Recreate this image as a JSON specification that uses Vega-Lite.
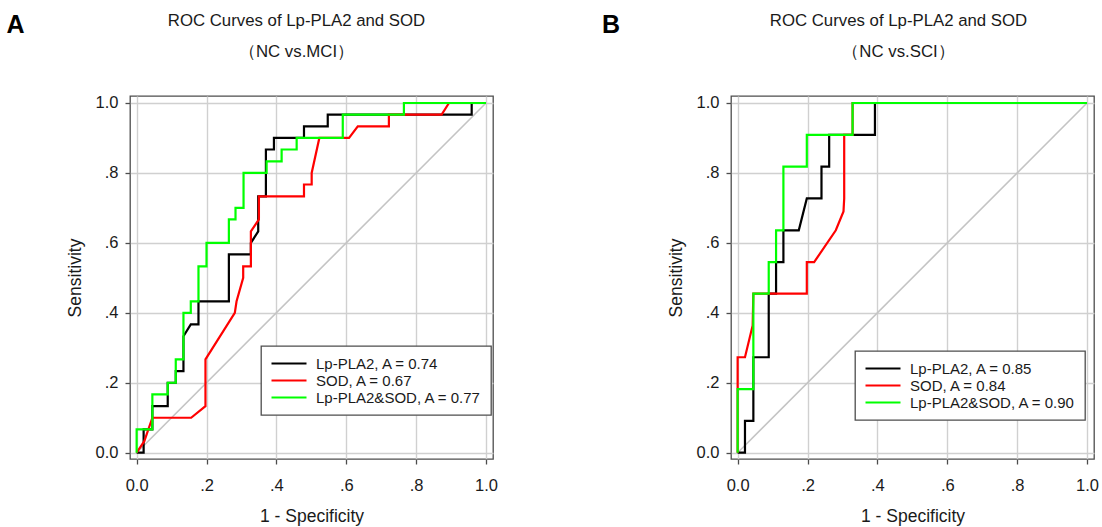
{
  "$schema": "https://vega.github.io/schema/vega-lite/v6.json",
  "padding": {"left": 6, "top": 12, "right": 0, "bottom": 0},
  "config": {
    "font": "Liberation Sans",
    "view": {"stroke": "#4d4d4d", "strokeWidth": 1.3},
    "axis": {
      "grid": true, "gridColor": "#d0d0d0", "gridWidth": 1.4, "domain": false,
      "tickColor": "#4d4d4d", "tickSize": 5, "tickWidth": 1.3,
      "labelFontSize": 16.5, "labelColor": "#1a1a1a", "labelFont": "Liberation Sans",
      "titleFontSize": 17.5, "titleFontWeight": "normal", "titleColor": "#1a1a1a", "titleFont": "Liberation Sans",
      "labelExpr": "datum.value == 0 ? '0.0' : datum.value == 1 ? '1.0' : replace(format(datum.value, '.1f'), '0.', '.')"
    },
    "axisX": {"labelPadding": 13, "titlePadding": 14},
    "axisY": {"labelPadding": 7, "titlePadding": 11},
    "legend": {
      "orient": "none", "title": null, "strokeColor": "#4d4d4d", "strokeWidth": 1.3, "fillColor": "#ffffff",
      "padding": 9, "symbolType": "stroke", "symbolSize": 1225, "symbolStrokeWidth": 2.2,
      "labelFontSize": 15, "labelFont": "Liberation Sans", "labelColor": "#1a1a1a", "labelLimit": 400,
      "clipHeight": 17, "rowPadding": 0, "labelOffset": 8
    },
    "title": {"font": "Liberation Sans", "color": "#1a1a1a"}
  },
  "datasets": {
    "A": [
      {"s": "Lp-PLA2, A = 0.74", "i": 0, "x": 0, "y": 0},
      {"s": "Lp-PLA2, A = 0.74", "i": 1, "x": 0.02, "y": 0},
      {"s": "Lp-PLA2, A = 0.74", "i": 2, "x": 0.02, "y": 0.067},
      {"s": "Lp-PLA2, A = 0.74", "i": 3, "x": 0.045, "y": 0.067},
      {"s": "Lp-PLA2, A = 0.74", "i": 4, "x": 0.045, "y": 0.133},
      {"s": "Lp-PLA2, A = 0.74", "i": 5, "x": 0.089, "y": 0.133},
      {"s": "Lp-PLA2, A = 0.74", "i": 6, "x": 0.089, "y": 0.2},
      {"s": "Lp-PLA2, A = 0.74", "i": 7, "x": 0.112, "y": 0.2},
      {"s": "Lp-PLA2, A = 0.74", "i": 8, "x": 0.112, "y": 0.233},
      {"s": "Lp-PLA2, A = 0.74", "i": 9, "x": 0.134, "y": 0.233},
      {"s": "Lp-PLA2, A = 0.74", "i": 10, "x": 0.134, "y": 0.333},
      {"s": "Lp-PLA2, A = 0.74", "i": 11, "x": 0.155, "y": 0.367},
      {"s": "Lp-PLA2, A = 0.74", "i": 12, "x": 0.177, "y": 0.367},
      {"s": "Lp-PLA2, A = 0.74", "i": 13, "x": 0.177, "y": 0.433},
      {"s": "Lp-PLA2, A = 0.74", "i": 14, "x": 0.264, "y": 0.433},
      {"s": "Lp-PLA2, A = 0.74", "i": 15, "x": 0.264, "y": 0.567},
      {"s": "Lp-PLA2, A = 0.74", "i": 16, "x": 0.327, "y": 0.567},
      {"s": "Lp-PLA2, A = 0.74", "i": 17, "x": 0.327, "y": 0.6},
      {"s": "Lp-PLA2, A = 0.74", "i": 18, "x": 0.348, "y": 0.633},
      {"s": "Lp-PLA2, A = 0.74", "i": 19, "x": 0.348, "y": 0.733},
      {"s": "Lp-PLA2, A = 0.74", "i": 20, "x": 0.37, "y": 0.733},
      {"s": "Lp-PLA2, A = 0.74", "i": 21, "x": 0.37, "y": 0.867},
      {"s": "Lp-PLA2, A = 0.74", "i": 22, "x": 0.393, "y": 0.867},
      {"s": "Lp-PLA2, A = 0.74", "i": 23, "x": 0.393, "y": 0.9},
      {"s": "Lp-PLA2, A = 0.74", "i": 24, "x": 0.479, "y": 0.9},
      {"s": "Lp-PLA2, A = 0.74", "i": 25, "x": 0.479, "y": 0.933},
      {"s": "Lp-PLA2, A = 0.74", "i": 26, "x": 0.547, "y": 0.933},
      {"s": "Lp-PLA2, A = 0.74", "i": 27, "x": 0.547, "y": 0.967},
      {"s": "Lp-PLA2, A = 0.74", "i": 28, "x": 0.959, "y": 0.967},
      {"s": "Lp-PLA2, A = 0.74", "i": 29, "x": 0.959, "y": 1},
      {"s": "Lp-PLA2, A = 0.74", "i": 30, "x": 1, "y": 1},
      {"s": "SOD, A = 0.67", "i": 0, "x": 0, "y": 0},
      {"s": "SOD, A = 0.67", "i": 1, "x": 0.022, "y": 0.033},
      {"s": "SOD, A = 0.67", "i": 2, "x": 0.045, "y": 0.1},
      {"s": "SOD, A = 0.67", "i": 3, "x": 0.156, "y": 0.1},
      {"s": "SOD, A = 0.67", "i": 4, "x": 0.197, "y": 0.133},
      {"s": "SOD, A = 0.67", "i": 5, "x": 0.197, "y": 0.267},
      {"s": "SOD, A = 0.67", "i": 6, "x": 0.281, "y": 0.4},
      {"s": "SOD, A = 0.67", "i": 7, "x": 0.286, "y": 0.433},
      {"s": "SOD, A = 0.67", "i": 8, "x": 0.305, "y": 0.5},
      {"s": "SOD, A = 0.67", "i": 9, "x": 0.305, "y": 0.533},
      {"s": "SOD, A = 0.67", "i": 10, "x": 0.327, "y": 0.533},
      {"s": "SOD, A = 0.67", "i": 11, "x": 0.327, "y": 0.633},
      {"s": "SOD, A = 0.67", "i": 12, "x": 0.35, "y": 0.667},
      {"s": "SOD, A = 0.67", "i": 13, "x": 0.35, "y": 0.733},
      {"s": "SOD, A = 0.67", "i": 14, "x": 0.479, "y": 0.733},
      {"s": "SOD, A = 0.67", "i": 15, "x": 0.479, "y": 0.767},
      {"s": "SOD, A = 0.67", "i": 16, "x": 0.501, "y": 0.767},
      {"s": "SOD, A = 0.67", "i": 17, "x": 0.501, "y": 0.8},
      {"s": "SOD, A = 0.67", "i": 18, "x": 0.523, "y": 0.9},
      {"s": "SOD, A = 0.67", "i": 19, "x": 0.608, "y": 0.9},
      {"s": "SOD, A = 0.67", "i": 20, "x": 0.633, "y": 0.933},
      {"s": "SOD, A = 0.67", "i": 21, "x": 0.722, "y": 0.933},
      {"s": "SOD, A = 0.67", "i": 22, "x": 0.722, "y": 0.967},
      {"s": "SOD, A = 0.67", "i": 23, "x": 0.873, "y": 0.967},
      {"s": "SOD, A = 0.67", "i": 24, "x": 0.894, "y": 1},
      {"s": "SOD, A = 0.67", "i": 25, "x": 1, "y": 1},
      {"s": "Lp-PLA2&SOD, A = 0.77", "i": 0, "x": 0, "y": 0},
      {"s": "Lp-PLA2&SOD, A = 0.77", "i": 1, "x": 0, "y": 0.067},
      {"s": "Lp-PLA2&SOD, A = 0.77", "i": 2, "x": 0.045, "y": 0.067},
      {"s": "Lp-PLA2&SOD, A = 0.77", "i": 3, "x": 0.045, "y": 0.167},
      {"s": "Lp-PLA2&SOD, A = 0.77", "i": 4, "x": 0.089, "y": 0.167},
      {"s": "Lp-PLA2&SOD, A = 0.77", "i": 5, "x": 0.089, "y": 0.2},
      {"s": "Lp-PLA2&SOD, A = 0.77", "i": 6, "x": 0.112, "y": 0.2},
      {"s": "Lp-PLA2&SOD, A = 0.77", "i": 7, "x": 0.112, "y": 0.267},
      {"s": "Lp-PLA2&SOD, A = 0.77", "i": 8, "x": 0.134, "y": 0.267},
      {"s": "Lp-PLA2&SOD, A = 0.77", "i": 9, "x": 0.134, "y": 0.4},
      {"s": "Lp-PLA2&SOD, A = 0.77", "i": 10, "x": 0.155, "y": 0.4},
      {"s": "Lp-PLA2&SOD, A = 0.77", "i": 11, "x": 0.155, "y": 0.433},
      {"s": "Lp-PLA2&SOD, A = 0.77", "i": 12, "x": 0.177, "y": 0.433},
      {"s": "Lp-PLA2&SOD, A = 0.77", "i": 13, "x": 0.177, "y": 0.533},
      {"s": "Lp-PLA2&SOD, A = 0.77", "i": 14, "x": 0.2, "y": 0.533},
      {"s": "Lp-PLA2&SOD, A = 0.77", "i": 15, "x": 0.2, "y": 0.6},
      {"s": "Lp-PLA2&SOD, A = 0.77", "i": 16, "x": 0.264, "y": 0.6},
      {"s": "Lp-PLA2&SOD, A = 0.77", "i": 17, "x": 0.264, "y": 0.667},
      {"s": "Lp-PLA2&SOD, A = 0.77", "i": 18, "x": 0.283, "y": 0.667},
      {"s": "Lp-PLA2&SOD, A = 0.77", "i": 19, "x": 0.283, "y": 0.7},
      {"s": "Lp-PLA2&SOD, A = 0.77", "i": 20, "x": 0.306, "y": 0.7},
      {"s": "Lp-PLA2&SOD, A = 0.77", "i": 21, "x": 0.306, "y": 0.8},
      {"s": "Lp-PLA2&SOD, A = 0.77", "i": 22, "x": 0.372, "y": 0.8},
      {"s": "Lp-PLA2&SOD, A = 0.77", "i": 23, "x": 0.372, "y": 0.833},
      {"s": "Lp-PLA2&SOD, A = 0.77", "i": 24, "x": 0.415, "y": 0.833},
      {"s": "Lp-PLA2&SOD, A = 0.77", "i": 25, "x": 0.415, "y": 0.867},
      {"s": "Lp-PLA2&SOD, A = 0.77", "i": 26, "x": 0.458, "y": 0.867},
      {"s": "Lp-PLA2&SOD, A = 0.77", "i": 27, "x": 0.458, "y": 0.9},
      {"s": "Lp-PLA2&SOD, A = 0.77", "i": 28, "x": 0.59, "y": 0.9},
      {"s": "Lp-PLA2&SOD, A = 0.77", "i": 29, "x": 0.59, "y": 0.967},
      {"s": "Lp-PLA2&SOD, A = 0.77", "i": 30, "x": 0.765, "y": 0.967},
      {"s": "Lp-PLA2&SOD, A = 0.77", "i": 31, "x": 0.765, "y": 1},
      {"s": "Lp-PLA2&SOD, A = 0.77", "i": 32, "x": 1, "y": 1}
    ],
    "B": [
      {"s": "Lp-PLA2, A = 0.85", "i": 0, "x": 0, "y": 0},
      {"s": "Lp-PLA2, A = 0.85", "i": 1, "x": 0.021, "y": 0},
      {"s": "Lp-PLA2, A = 0.85", "i": 2, "x": 0.021, "y": 0.091},
      {"s": "Lp-PLA2, A = 0.85", "i": 3, "x": 0.045, "y": 0.091},
      {"s": "Lp-PLA2, A = 0.85", "i": 4, "x": 0.045, "y": 0.273},
      {"s": "Lp-PLA2, A = 0.85", "i": 5, "x": 0.089, "y": 0.273},
      {"s": "Lp-PLA2, A = 0.85", "i": 6, "x": 0.089, "y": 0.455},
      {"s": "Lp-PLA2, A = 0.85", "i": 7, "x": 0.11, "y": 0.455},
      {"s": "Lp-PLA2, A = 0.85", "i": 8, "x": 0.11, "y": 0.545},
      {"s": "Lp-PLA2, A = 0.85", "i": 9, "x": 0.131, "y": 0.545},
      {"s": "Lp-PLA2, A = 0.85", "i": 10, "x": 0.131, "y": 0.636},
      {"s": "Lp-PLA2, A = 0.85", "i": 11, "x": 0.175, "y": 0.636},
      {"s": "Lp-PLA2, A = 0.85", "i": 12, "x": 0.198, "y": 0.727},
      {"s": "Lp-PLA2, A = 0.85", "i": 13, "x": 0.24, "y": 0.727},
      {"s": "Lp-PLA2, A = 0.85", "i": 14, "x": 0.24, "y": 0.818},
      {"s": "Lp-PLA2, A = 0.85", "i": 15, "x": 0.262, "y": 0.818},
      {"s": "Lp-PLA2, A = 0.85", "i": 16, "x": 0.262, "y": 0.909},
      {"s": "Lp-PLA2, A = 0.85", "i": 17, "x": 0.393, "y": 0.909},
      {"s": "Lp-PLA2, A = 0.85", "i": 18, "x": 0.393, "y": 1},
      {"s": "Lp-PLA2, A = 0.85", "i": 19, "x": 1, "y": 1},
      {"s": "SOD, A = 0.84", "i": 0, "x": 0, "y": 0},
      {"s": "SOD, A = 0.84", "i": 1, "x": 0, "y": 0.273},
      {"s": "SOD, A = 0.84", "i": 2, "x": 0.021, "y": 0.273},
      {"s": "SOD, A = 0.84", "i": 3, "x": 0.043, "y": 0.364},
      {"s": "SOD, A = 0.84", "i": 4, "x": 0.045, "y": 0.455},
      {"s": "SOD, A = 0.84", "i": 5, "x": 0.198, "y": 0.455},
      {"s": "SOD, A = 0.84", "i": 6, "x": 0.198, "y": 0.545},
      {"s": "SOD, A = 0.84", "i": 7, "x": 0.219, "y": 0.545},
      {"s": "SOD, A = 0.84", "i": 8, "x": 0.281, "y": 0.636},
      {"s": "SOD, A = 0.84", "i": 9, "x": 0.303, "y": 0.69},
      {"s": "SOD, A = 0.84", "i": 10, "x": 0.305, "y": 0.727},
      {"s": "SOD, A = 0.84", "i": 11, "x": 0.305, "y": 0.909},
      {"s": "SOD, A = 0.84", "i": 12, "x": 0.329, "y": 0.909},
      {"s": "SOD, A = 0.84", "i": 13, "x": 0.329, "y": 1},
      {"s": "SOD, A = 0.84", "i": 14, "x": 1, "y": 1},
      {"s": "Lp-PLA2&SOD, A = 0.90", "i": 0, "x": 0, "y": 0},
      {"s": "Lp-PLA2&SOD, A = 0.90", "i": 1, "x": 0, "y": 0.182},
      {"s": "Lp-PLA2&SOD, A = 0.90", "i": 2, "x": 0.045, "y": 0.182},
      {"s": "Lp-PLA2&SOD, A = 0.90", "i": 3, "x": 0.045, "y": 0.455},
      {"s": "Lp-PLA2&SOD, A = 0.90", "i": 4, "x": 0.089, "y": 0.455},
      {"s": "Lp-PLA2&SOD, A = 0.90", "i": 5, "x": 0.089, "y": 0.545},
      {"s": "Lp-PLA2&SOD, A = 0.90", "i": 6, "x": 0.11, "y": 0.545},
      {"s": "Lp-PLA2&SOD, A = 0.90", "i": 7, "x": 0.11, "y": 0.636},
      {"s": "Lp-PLA2&SOD, A = 0.90", "i": 8, "x": 0.131, "y": 0.636},
      {"s": "Lp-PLA2&SOD, A = 0.90", "i": 9, "x": 0.131, "y": 0.818},
      {"s": "Lp-PLA2&SOD, A = 0.90", "i": 10, "x": 0.198, "y": 0.818},
      {"s": "Lp-PLA2&SOD, A = 0.90", "i": 11, "x": 0.198, "y": 0.909},
      {"s": "Lp-PLA2&SOD, A = 0.90", "i": 12, "x": 0.329, "y": 0.909},
      {"s": "Lp-PLA2&SOD, A = 0.90", "i": 13, "x": 0.329, "y": 1},
      {"s": "Lp-PLA2&SOD, A = 0.90", "i": 14, "x": 1, "y": 1}
    ],
    "diag": [{"x": 0, "y": 0}, {"x": 1, "y": 1}]
  },
  "resolve": {"scale": {"color": "independent"}, "legend": {"color": "independent"}},
  "spacing": 102,
  "hconcat": [
    {
      "title": {"text": "A", "anchor": "start", "frame": "bounds", "fontSize": 25, "fontWeight": "bold", "offset": -25, "dx": -59, "color": "#000000"},
      "vconcat": [
        {
          "width": 363, "height": 363,
          "title": {"text": ["ROC Curves of Lp-PLA2 and SOD", "（NC vs.MCI）"], "lineHeight": 31, "fontSize": 16.8, "fontWeight": "normal", "offset": 34, "dx": -15, "anchor": "middle", "frame": "group"},
          "data": {"name": "A"},
          "encoding": {
            "x": {"field": "x", "type": "quantitative", "scale": {"domain": [-0.019, 1.02], "nice": false, "zero": false}, "axis": {"title": "1 - Specificity", "values": [0, 0.2, 0.4, 0.6, 0.8, 1]}},
            "y": {"field": "y", "type": "quantitative", "scale": {"domain": [-0.018, 1.02], "nice": false, "zero": false}, "axis": {"title": "Sensitivity", "values": [0, 0.2, 0.4, 0.6, 0.8, 1]}}
          },
          "layer": [
            {"data": {"name": "diag"}, "mark": {"type": "line", "color": "#c4c4c4", "strokeWidth": 1.6}, "encoding": {}},
            {"transform": [{"filter": "datum.s === 'Lp-PLA2, A = 0.74'"}], "mark": {"type": "line", "strokeWidth": 2.2}, "encoding": {"order": {"field": "i"}, "color": {"field": "s", "type": "nominal", "scale": {"domain": ["Lp-PLA2, A = 0.74", "SOD, A = 0.67", "Lp-PLA2&SOD, A = 0.77"], "range": ["#000000", "#ff0000", "#00ff00"]}, "legend": {"legendX": 131, "legendY": 250}}}},
            {"transform": [{"filter": "datum.s === 'SOD, A = 0.67'"}], "mark": {"type": "line", "strokeWidth": 2.2}, "encoding": {"order": {"field": "i"}, "color": {"field": "s", "type": "nominal"}}},
            {"transform": [{"filter": "datum.s === 'Lp-PLA2&SOD, A = 0.77'"}], "mark": {"type": "line", "strokeWidth": 2.2}, "encoding": {"order": {"field": "i"}, "color": {"field": "s", "type": "nominal"}}}
          ]
        }
      ]
    },
    {
      "title": {"text": "B", "anchor": "start", "frame": "bounds", "fontSize": 25, "fontWeight": "bold", "offset": -25, "dx": -64.5, "color": "#000000"},
      "vconcat": [
        {
          "width": 363, "height": 363,
          "title": {"text": ["ROC Curves of Lp-PLA2 and SOD", "（NC vs.SCI）"], "lineHeight": 31, "fontSize": 16.8, "fontWeight": "normal", "offset": 34, "dx": -14, "anchor": "middle", "frame": "group"},
          "data": {"name": "B"},
          "encoding": {
            "x": {"field": "x", "type": "quantitative", "scale": {"domain": [-0.019, 1.02], "nice": false, "zero": false}, "axis": {"title": "1 - Specificity", "values": [0, 0.2, 0.4, 0.6, 0.8, 1]}},
            "y": {"field": "y", "type": "quantitative", "scale": {"domain": [-0.018, 1.02], "nice": false, "zero": false}, "axis": {"title": "Sensitivity", "values": [0, 0.2, 0.4, 0.6, 0.8, 1]}}
          },
          "layer": [
            {"data": {"name": "diag"}, "mark": {"type": "line", "color": "#c4c4c4", "strokeWidth": 1.6}, "encoding": {}},
            {"transform": [{"filter": "datum.s === 'Lp-PLA2, A = 0.85'"}], "mark": {"type": "line", "strokeWidth": 2.2}, "encoding": {"order": {"field": "i"}, "color": {"field": "s", "type": "nominal", "scale": {"domain": ["Lp-PLA2, A = 0.85", "SOD, A = 0.84", "Lp-PLA2&SOD, A = 0.90"], "range": ["#000000", "#ff0000", "#00ff00"]}, "legend": {"legendX": 124, "legendY": 255}}}},
            {"transform": [{"filter": "datum.s === 'SOD, A = 0.84'"}], "mark": {"type": "line", "strokeWidth": 2.2}, "encoding": {"order": {"field": "i"}, "color": {"field": "s", "type": "nominal"}}},
            {"transform": [{"filter": "datum.s === 'Lp-PLA2&SOD, A = 0.90'"}], "mark": {"type": "line", "strokeWidth": 2.2}, "encoding": {"order": {"field": "i"}, "color": {"field": "s", "type": "nominal"}}}
          ]
        }
      ]
    }
  ]
}
